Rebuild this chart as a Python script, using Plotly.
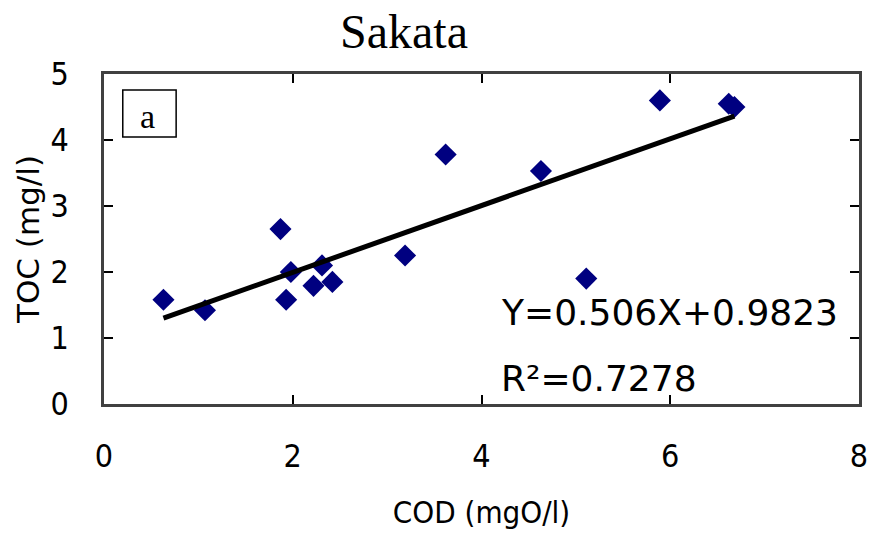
import numpy as np
import plotly.graph_objects as go

# Data
cod = [0.63, 1.07, 1.87, 1.98, 1.93, 2.31, 2.22, 2.42, 3.19, 3.62, 4.63, 5.11, 5.89, 6.62, 6.68]
toc = [1.58, 1.42, 2.65, 2.00, 1.58, 2.10, 1.79, 1.85, 2.25, 3.78, 3.53, 1.90, 4.60, 4.55, 4.50]
slope = 0.506
intercept = 0.9823
r2 = 0.7278
x_ticks = [0, 2, 4, 6, 8]
y_ticks = [0, 1, 2, 3, 4, 5]

fit_x = np.array([min(cod), max(cod)])
fit_y = slope * fit_x + intercept

narrow = "Liberation Sans Narrow, DejaVu Sans Condensed, Arial Narrow, sans-serif"

fig = go.Figure()
fig.add_trace(go.Scatter(x=cod, y=toc, mode="markers",
                         marker=dict(symbol="diamond", size=17, color="#000080",
                                     line=dict(width=0)),
                         showlegend=False))
fig.add_trace(go.Scatter(x=fit_x, y=fit_y, mode="lines",
                         line=dict(color="black", width=5), showlegend=False))

axis_common = dict(showline=True, linecolor="#404040", linewidth=2.5, mirror="ticks",
                   ticks="inside", ticklen=9, tickwidth=2, tickcolor="black",
                   showgrid=False, zeroline=False,
                   tickfont=dict(family=narrow, size=32, color="black"))

fig.update_layout(
    width=876, height=541,
    margin=dict(l=104, r=8, t=74, b=137),
    paper_bgcolor="white", plot_bgcolor="white",
    title=dict(text="Sakata", x=404/876, xref="container", xanchor="center",
               y=1 - 31/541, yref="container", yanchor="middle",
               font=dict(family="Liberation Serif, Times New Roman, serif", size=48, color="black")),
    xaxis=dict(range=[0, 8], tickvals=x_ticks, ticklabelstandoff=22,
               title=dict(text="COD (mgO/l)", standoff=28,
                          font=dict(family=narrow, size=31, color="black")),
               **axis_common),
    yaxis=dict(range=[0, 5], tickvals=y_ticks, ticklabelstandoff=26,
               title=dict(text="TOC (mg/l)", standoff=2,
                          font=dict(family="DejaVu Sans, sans-serif", size=31, color="black")),
               **axis_common),
    shapes=[dict(type="rect", xref="paper", yref="paper",
                 x0=(123-104)/764, x1=(177-104)/764, y0=(404-137)/330, y1=(404-90)/330,
                 line=dict(color="black", width=1.5), fillcolor="white")],
    annotations=[
        dict(text="a", xref="paper", yref="paper", x=(148-104)/764, y=(404-137)/330,
             xanchor="center", yanchor="bottom", showarrow=False,
             font=dict(family="Liberation Serif, Times New Roman, serif", size=34, color="black")),
        dict(text=f"Y={slope}X+{intercept}", xref="paper", yref="paper",
             x=(504-104)/764, y=(404-312)/330, xanchor="left", yanchor="middle", showarrow=False,
             font=dict(family="DejaVu Sans, sans-serif", size=36, color="black")),
        dict(text=f"R²={r2}", xref="paper", yref="paper",
             x=(504-104)/764, y=(404-378)/330, xanchor="left", yanchor="middle", showarrow=False,
             font=dict(family="DejaVu Sans, sans-serif", size=36, color="black")),
    ],
)

fig.write_html("out.html")
